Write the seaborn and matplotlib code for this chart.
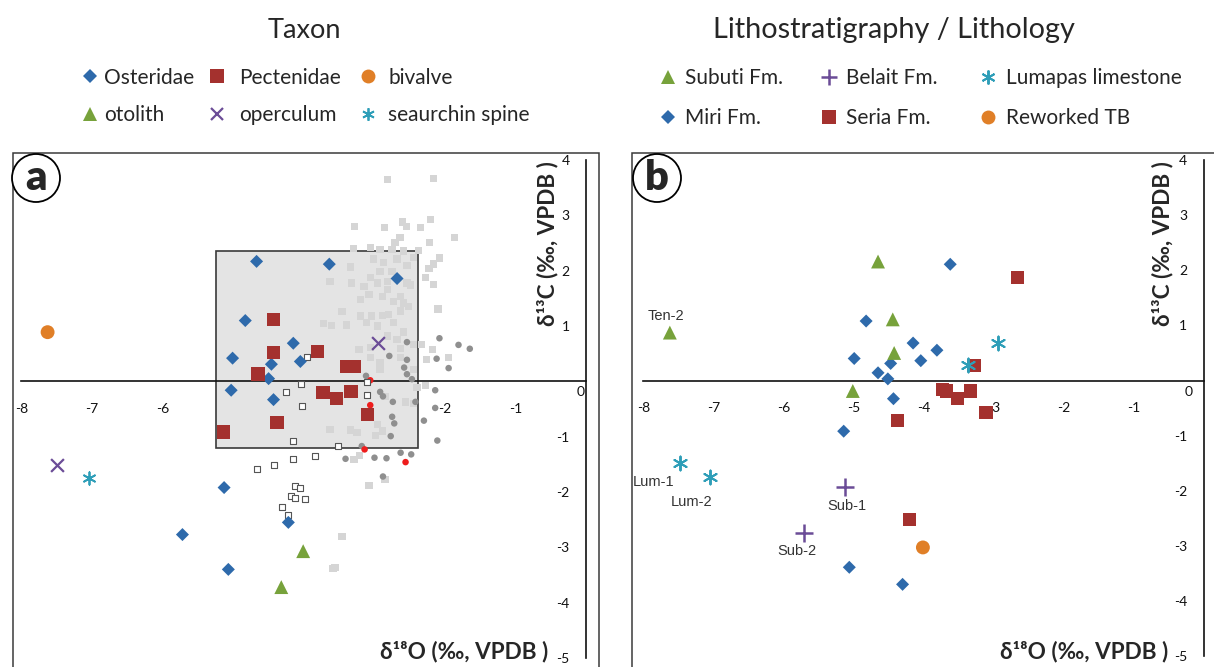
import matplotlib
matplotlib.use('Agg')
import matplotlib.pyplot as plt
import seaborn as sns
from matplotlib.lines import Line2D
from matplotlib.patches import Rectangle, Ellipse
from matplotlib.transforms import ScaledTranslation

##PANEL A DATA (taxon)
osteridae_x = [-4.67, -3.64, -2.68, -4.83, -4.15, -5.01, -4.46, -4.05, -4.50, -5.03, -4.43, -5.13, -5.72, -5.07, -4.22]
osteridae_y = [2.17, 2.12, 1.86, 1.10, 0.69, 0.42, 0.31, 0.36, 0.05, -0.16, -0.33, -1.92, -2.77, -3.40, -2.55]
pectenidae_x = [-4.43, -4.43, -4.65, -3.81, -3.39, -3.29, -3.73, -3.54, -3.33, -3.10, -4.38, -5.14]
pectenidae_y = [1.12, 0.52, 0.13, 0.54, 0.27, 0.27, -0.20, -0.31, -0.18, -0.60, -0.74, -0.92]
bivalve_x = [-7.63]
bivalve_y = [0.89]
otolith_x = [-4.01, -4.32]
otolith_y = [-3.07, -3.72]
operculum_x = [-2.95, -7.49]
operculum_y = [0.69, -1.52]
seaurchin_x = [-7.05]
seaurchin_y = [-1.75]

# background compilation data
ref_light_x = [-2.82, -2.16, -3.28, -2.86, -2.60, -2.55, -2.35, -2.21, -1.87, -2.64, -2.22, -2.71, -3.30, -3.06,
               -2.92, -2.75, -2.59, -2.38, -2.08, -2.16, -2.23, -2.45, -3.34, -3.01, -2.87, -2.68, -2.54, -2.92,
               -2.75, -3.63, -3.33, -3.06, -2.96, -2.82, -2.54, -2.28, -2.16, -3.15, -2.49, -2.82, -2.63, -3.08,
               -2.89, -3.20, -2.59, -2.73, -2.52, -2.10, -3.46, -2.63, -3.20, -3.04, -2.89, -2.80, -3.11, -3.72,
               -3.61, -3.40, -2.96, -2.73, -2.59, -2.82, -2.68, -3.22, -3.06, -2.63, -2.45, -2.33, -2.18, -1.95,
               -3.06, -2.92, -2.63, -2.26, -2.92, -2.45, -2.40, -2.28, -2.85, -2.56, -2.45, -3.63, -3.34, -3.25,
               -2.96, -2.89, -2.99, -3.29, -3.21, -3.08, -2.85, -3.46, -3.59, -3.56]
ref_light_y = [3.65, 3.67, 2.80, 2.78, 2.88, 2.80, 2.78, 2.93, 2.60, 2.60, 2.51, 2.51, 2.40, 2.42,
               2.39, 2.39, 2.36, 2.37, 2.23, 2.12, 2.04, 2.24, 2.07, 2.21, 2.15, 2.21, 2.09, 1.99,
               1.99, 1.81, 1.78, 1.88, 1.78, 1.81, 1.78, 1.88, 1.75, 1.72, 1.74, 1.66, 1.54, 1.57,
               1.54, 1.48, 1.42, 1.45, 1.36, 1.31, 1.26, 1.27, 1.18, 1.18, 1.19, 1.21, 1.06, 1.05,
               1.01, 1.02, 1.00, 1.06, 0.89, 0.82, 0.76, 0.58, 0.61, 0.59, 0.67, 0.67, 0.58, 0.43,
               0.43, 0.34, 0.43, 0.39, 0.22, 0.22, -0.11, -0.08, -0.27, -0.37, -0.40, -0.87, -0.88, -0.93,
               -0.78, -0.90, -0.98, -1.41, -1.34, -1.88, -1.78, -2.80, -3.38, -3.37]
ref_dark_x = [-2.54, -2.08, -1.81, -1.65, -2.79, -2.54, -2.12, -1.95, -2.58, -2.54, -2.47, -3.12, -2.92, -2.14, -2.88,
              -2.74, -2.42, -2.14, -2.75, -2.72, -2.30, -2.77, -2.11, -3.18, -2.63, -2.48, -3.41, -3.00, -2.83, -2.88]
ref_dark_y = [0.71, 0.78, 0.66, 0.59, 0.46, 0.39, 0.41, 0.24, 0.25, 0.13, 0.04, 0.10, -0.19, -0.16, -0.27,
              -0.37, -0.37, -0.48, -0.64, -0.76, -0.71, -0.99, -1.07, -1.17, -1.29, -1.32, -1.40, -1.38, -1.39, -1.72]
ref_red_x = [-3.06, -3.06, -3.14, -2.56]
ref_red_y = [0.02, -0.43, -1.23, -1.46]
ref_open_x = [-3.95, -4.04, -4.25, -3.11, -3.11, -4.03, -4.15, -3.52, -4.15, -3.84, -4.42, -4.67, -4.12, -4.05,
              -4.18, -4.12, -3.98, -4.31, -4.22]
ref_open_y = [0.45, -0.04, -0.20, -0.02, -0.25, -0.45, -1.08, -1.16, -1.40, -1.35, -1.52, -1.58, -1.90, -1.93,
              -2.07, -2.10, -2.12, -2.28, -2.41]

# shaded field
field_x = [-5.24, -2.38]
field_y = [-1.20, 2.35]

##PANEL B DATA (lithostratigraphy)
subuti_x = [-7.62, -4.65, -4.44, -4.42, -5.01]
subuti_y = [0.87, 2.16, 1.11, 0.50, -0.19]
miri_x = [-3.62, -4.82, -4.15, -3.81, -4.04, -4.99, -4.47, -4.65, -4.51, -4.43, -5.14, -5.06, -4.30]
miri_y = [2.11, 1.08, 0.68, 0.55, 0.36, 0.40, 0.31, 0.14, 0.03, -0.33, -0.92, -3.39, -3.70]
belait_x = [-5.12, -5.71]
belait_y = [-1.93, -2.77]
seria_x = [-2.66, -3.28, -3.73, -3.67, -3.52, -3.33, -3.11, -4.37, -4.20]
seria_y = [1.87, 0.28, -0.17, -0.19, -0.32, -0.19, -0.58, -0.73, -2.52]
lumapas_x = [-7.48, -7.05, -3.36, -2.94]
lumapas_y = [-1.50, -1.76, 0.28, 0.68]
reworked_x = [-4.01]
reworked_y = [-3.03]

sample_labels = ['Ten-2', 'Lum-1', 'Lum-2', 'Sub-1', 'Sub-2']
sample_x = [-7.62, -7.48, -7.05, -5.12, -5.71]
sample_y = [0.87, -1.50, -1.76, -1.93, -2.77]
label_offsets = [(-3, 12), (-19, -13.5), (-13, -18), (1.5, -13.5), (-5, -13)]

BLUE = '#2E6AAB'
RED = '#A4312E'
ORANGE = '#E07F27'
GREEN = '#77A23B'
PURPLE = '#6B4C97'
TEAL = '#2E9EB8'
ASTER = (6, 2, 0)

sns.set_style('white')
plt.rcParams['font.family'] = ['Lato', 'DejaVu Sans']
plt.rcParams['axes.unicode_minus'] = False

W, H = 1214, 667
fig = plt.figure(figsize=(W / 100, H / 100), dpi=100)
axA = fig.add_axes([13 / W, -13 / H, 586 / W, 527 / H])
axB = fig.add_axes([632 / W, -11 / H, 586 / W, 525 / H])
axA.set_xlim(-8.12, 0.18)
axB.set_xlim(-8.16, 0.20)
for ax in (axA, axB):
    ax.set_ylim(-5.4, 4.13)


def pts(ax, x, y, marker, color, s, ec='none', lw=0, z=4):
    sns.scatterplot(x=x, y=y, ax=ax, marker=marker, color=color, s=s,
                    edgecolor=ec, linewidth=lw, zorder=z, legend=False)


##PANEL A
axA.add_patch(Rectangle((field_x[0], field_y[0]), field_x[1] - field_x[0], field_y[1] - field_y[0],
                        facecolor='#E4E4E4', edgecolor='#3A3A3A', lw=1.2, zorder=1))
pts(axA, ref_light_x, ref_light_y, 's', '#D5D5D5', 28, z=2)
pts(axA, ref_dark_x, ref_dark_y, 'o', '#8F8F8F', 22, z=3)
pts(axA, ref_red_x, ref_red_y, 'o', '#EE1C1C', 22, z=3)
pts(axA, ref_open_x, ref_open_y, 's', 'white', 22, ec='#555555', lw=0.8, z=3)
pts(axA, osteridae_x, osteridae_y, 'D', BLUE, 44)
pts(axA, pectenidae_x, pectenidae_y, 's', RED, 95)
pts(axA, bivalve_x, bivalve_y, 'o', ORANGE, 100)
pts(axA, otolith_x, otolith_y, '^', GREEN, 100)
sns.scatterplot(x=operculum_x, y=operculum_y, ax=axA, marker='x', color=PURPLE, s=85, linewidth=1.6, zorder=4, legend=False)
sns.scatterplot(x=seaurchin_x, y=seaurchin_y, ax=axA, marker=ASTER, color=TEAL, s=80, linewidth=1.3, zorder=4, legend=False)

##PANEL B
pts(axB, miri_x, miri_y, 'D', BLUE, 44)
pts(axB, seria_x, seria_y, 's', RED, 90)
pts(axB, subuti_x, subuti_y, '^', GREEN, 100)
pts(axB, reworked_x, reworked_y, 'o', ORANGE, 100)
sns.scatterplot(x=belait_x, y=belait_y, ax=axB, marker='+', color=PURPLE, s=150, linewidth=1.8, zorder=4, legend=False)
sns.scatterplot(x=lumapas_x, y=lumapas_y, ax=axB, marker=ASTER, color=TEAL, s=100, linewidth=1.4, zorder=5, legend=False)
for lab, x, y, off in zip(sample_labels, sample_x, sample_y, label_offsets):
    axB.annotate(lab, (x, y), xytext=off, textcoords='offset points', ha='center', va='center',
                 fontsize=10.5, color='#333333', family='Liberation Sans')

##AXES STYLE
for ax, zero_shift in ((axA, 15), (axB, 5)):
    ax.set_xlabel('')
    ax.set_ylabel('')
    ax.spines['top'].set_visible(False)
    ax.spines['right'].set_visible(False)
    ax.spines['left'].set_position(('data', 0))
    ax.spines['bottom'].set_position(('data', 0))
    ax.spines['left'].set_bounds(-5, 4)
    ax.spines['bottom'].set_bounds(-8, 0)
    for side in ('left', 'bottom'):
        ax.spines[side].set_color('#111111')
        ax.spines[side].set_linewidth(1.2)
        ax.spines[side].set_zorder(2.5)
    ax.set_xticks(range(-8, 1))
    ax.set_xticklabels([str(v) for v in range(-8, 0)] + [''])
    ax.set_yticks(range(-5, 5))
    ax.set_yticklabels([str(v) for v in range(-5, 5)])
    ax.tick_params(axis='x', direction='out', length=3.6, width=1.1, pad=12, labelsize=10, colors='#111111')
    ax.tick_params(axis='y', direction='out', length=3.6, width=1.1, pad=8.5, labelsize=10, colors='#111111')
    for lbl in ax.get_yticklabels():
        if lbl.get_text() == '0':
            lbl.set_transform(lbl.get_transform() + ScaledTranslation(zero_shift / 100, -10 / 100, fig.dpi_scale_trans))
    ax.add_patch(Rectangle((0, 0), 1, 1, transform=ax.transAxes, fill=False, edgecolor='#3A3A3A',
                           lw=1.1, clip_on=False, zorder=6))

# axis titles
for xr, yx in ((548, 548), (1168, 1163)):
    fig.text(xr / W, 1 - 652 / H, 'δ¹⁸O (‰, VPDB )', ha='right', va='center', fontsize=16.2, fontweight='bold')
    fig.text(yx / W, 1 - 161 / H, 'δ¹³C (‰, VPDB )', ha='center', va='top', rotation=90, fontsize=16.2, fontweight='bold')

# panel letters
for cx, letter in ((36, 'a'), (657, 'b')):
    fig.add_artist(Ellipse((cx / W, 1 - 178 / H), 48 / W, 48 / H, transform=fig.transFigure,
                           facecolor='white', edgecolor='black', lw=1.3))
    fig.text(cx / W, 1 - 190 / H, letter, ha='center', va='baseline', fontsize=30, fontweight='heavy')

# headings
fig.text(304 / W, 1 - 30 / H, 'Taxon', ha='center', va='center', fontsize=19.5)
fig.text(894 / W, 1 - 30 / H, 'Lithostratigraphy / Lithology', ha='center', va='center', fontsize=20.8)


def key(marker, color, ms, mew=0):
    return Line2D([], [], linestyle='none', marker=marker, color=color, markersize=ms, markeredgewidth=mew)


# one legend per column so the columns sit where they do in the figure
taxon_cols = [
    ([key('D', BLUE, 7.5), key('^', GREEN, 10)], ['Osteridae', 'otolith'], 90, 0.37),
    ([key('s', RED, 10), key('x', PURPLE, 9, 1.6)], ['Pectenidae', 'operculum'], 217, 0.76),
    ([key('o', ORANGE, 10), key(ASTER, TEAL, 9, 1.3)], ['bivalve', 'seaurchin spine'], 368, 0.66),
]
litho_cols = [
    ([key('^', GREEN, 10), key('D', BLUE, 7.5)], ['Subuti Fm.', 'Miri Fm.'], 668, 0.52),
    ([key('+', PURPLE, 12, 1.8), key('s', RED, 10)], ['Belait Fm.', 'Seria Fm.'], 829, 0.52),
    ([key(ASTER, TEAL, 10, 1.4), key('o', ORANGE, 10)], ['Lumapas limestone', 'Reworked TB'], 988, 0.56),
]
for cols, top, spacing in ((taxon_cols, 67.5, 0.84), (litho_cols, 68.5, 0.93)):
    for handles, labels, cx, tpad in cols:
        fig.legend(handles, labels, loc='upper left', bbox_to_anchor=((cx - 6.25) / W, 1 - top / H),
                   frameon=False, fontsize=15, handlelength=0.6, handletextpad=tpad,
                   labelspacing=spacing, borderaxespad=0, borderpad=0)

fig.savefig('out.png', dpi=100)
